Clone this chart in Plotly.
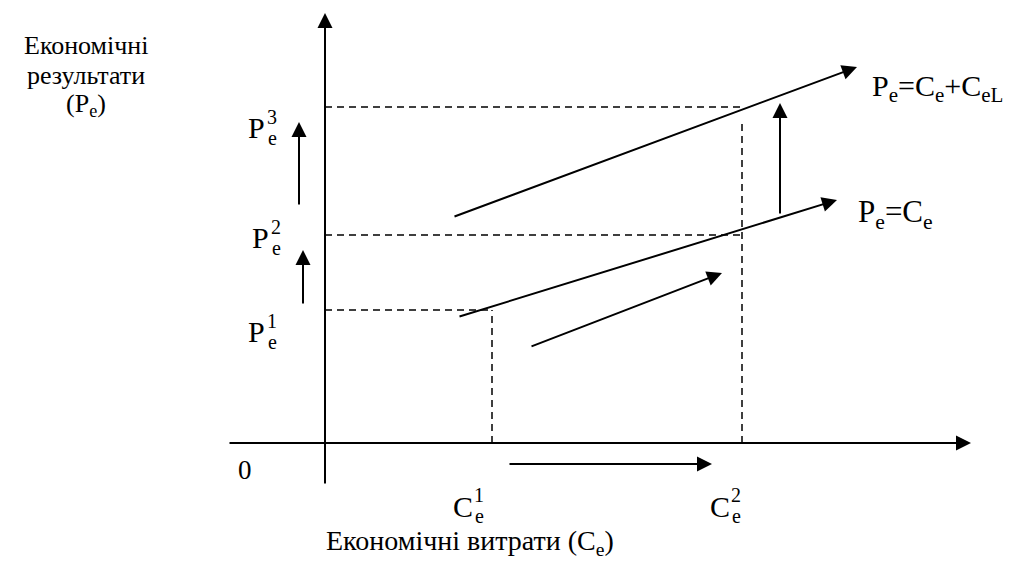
import plotly.graph_objects as go

# Diagram units: origin at the axes' intersection
C_LEVELS = [167, 417]          # C_e^1, C_e^2 on the cost axis
P_LEVELS = [133, 208, 336]     # P_e^1, P_e^2, P_e^3 on the result axis
C2_DASH_TOP = 320              # top of the dashed drop line from C_e^2

PE_CE_X = [133, 512]           # line Pe = Ce
PE_CE_Y = [126, 243]
PE_CEL_X = [128, 532]          # line Pe = Ce + CeL
PE_CEL_Y = [226, 376]

SHIFT_UP_X = [455, 455]        # vertical shift arrow between the lines
SHIFT_UP_Y = [228, 340]
GROWTH_X = [205, 397]          # growth arrow under Pe = Ce
GROWTH_Y = [96, 170]
COST_ARROW_X = [183, 387]      # arrow along the cost axis
COST_ARROW_Y = [-21, -21]
P_ARROW_LOW_X = [-22, -22]
P_ARROW_LOW_Y = [138, 193]
P_ARROW_HIGH_X = [-26, -26]
P_ARROW_HIGH_Y = [237, 321]

Y_AXIS_X = [0, 0]
Y_AXIS_Y = [-42, 430]
X_AXIS_X = [-97, 646]
X_AXIS_Y = [0, 0]

LEFT_TITLE = ["Економічні", "результати", "(P<sub>e</sub>)"]
BOTTOM_TITLE = "Економічні витрати (C<sub>e</sub>)"
LINE_LABELS = ["P<sub>e</sub>=C<sub>e</sub>", "P<sub>e</sub>=C<sub>e</sub>+C<sub>eL</sub>"]
P_SUPS = ["1", "2", "3"]
C_SUPS = ["1", "2"]

FONT = "Liberation Serif, Times New Roman, serif"
BLACK = "#000000"

fig = go.Figure()

def dashed(xs, ys):
    fig.add_trace(go.Scatter(x=xs, y=ys, mode="lines",
                             line=dict(color=BLACK, width=1.5, dash="7px,5px"),
                             hoverinfo="skip", showlegend=False))

# dashed guide lines
dashed([0, C_LEVELS[0]], [P_LEVELS[0], P_LEVELS[0]])
dashed([0, C_LEVELS[1]], [P_LEVELS[1], P_LEVELS[1]])
dashed([0, C_LEVELS[1]], [P_LEVELS[2], P_LEVELS[2]])
dashed([C_LEVELS[0], C_LEVELS[0]], [0, P_LEVELS[0]])
dashed([C_LEVELS[1], C_LEVELS[1]], [0, C2_DASH_TOP])

annotations = []

def arrow(xs, ys, w=2, size=1.5):
    annotations.append(dict(x=xs[1], y=ys[1], ax=xs[0], ay=ys[0],
                            xref="x", yref="y", axref="x", ayref="y",
                            showarrow=True, arrowhead=2, arrowsize=size,
                            arrowwidth=w, arrowcolor=BLACK, standoff=0,
                            startstandoff=0, text=""))

arrow(Y_AXIS_X, Y_AXIS_Y)
arrow(X_AXIS_X, X_AXIS_Y)
arrow(PE_CE_X, PE_CE_Y)
arrow(PE_CEL_X, PE_CEL_Y)
arrow(SHIFT_UP_X, SHIFT_UP_Y)
arrow(GROWTH_X, GROWTH_Y)
arrow(COST_ARROW_X, COST_ARROW_Y)
arrow(P_ARROW_LOW_X, P_ARROW_LOW_Y)
arrow(P_ARROW_HIGH_X, P_ARROW_HIGH_Y)

def text(x, y, s, size, xanchor="center"):
    annotations.append(dict(x=x, y=y, xref="x", yref="y", text=s,
                            showarrow=False, xanchor=xanchor, yanchor="middle",
                            font=dict(family=FONT, size=size, color=BLACK)))

# left title, one line each
for i, line in enumerate(LEFT_TITLE):
    text(-239, 398 - 30 * i, line, 26)

# bottom title
text(145, -99, BOTTOM_TITLE, 28)

# origin
text(-80, -27, "0", 27)

# P_e^k labels
P_LABEL_X = [-69, -65, -69]
P_LABEL_Y = [112, 206, 316]
for k in range(len(P_LEVELS)):
    px = P_LABEL_X[k]
    py = P_LABEL_Y[k]
    text(px, py, "P", 30)
    text(px + 16, py + 10, P_SUPS[k], 20)
    text(px + 16, py - 11, "e", 20)

# C_e^k labels
C_LABEL_X = [138, 395]
for k, cx in enumerate(C_LABEL_X):
    text(cx, -63, "C", 30)
    text(cx + 16, -52, C_SUPS[k], 20)
    text(cx + 16, -73, "e", 20)

# line labels
text(531, 229, LINE_LABELS[0], 31, xanchor="left")
text(545, 355, LINE_LABELS[1], 30, xanchor="left")

# the page body adds an 8px offset; ranges compensate so the axes origin
# lands at the reference position
fig.update_layout(
    width=1014, height=568,
    margin=dict(l=0, r=0, t=0, b=0),
    paper_bgcolor="white", plot_bgcolor="white",
    xaxis=dict(range=[-317, 697], visible=False, fixedrange=True),
    yaxis=dict(range=[-133, 435], visible=False, fixedrange=True),
    annotations=annotations,
    showlegend=False,
)

fig.write_html("out.html")
